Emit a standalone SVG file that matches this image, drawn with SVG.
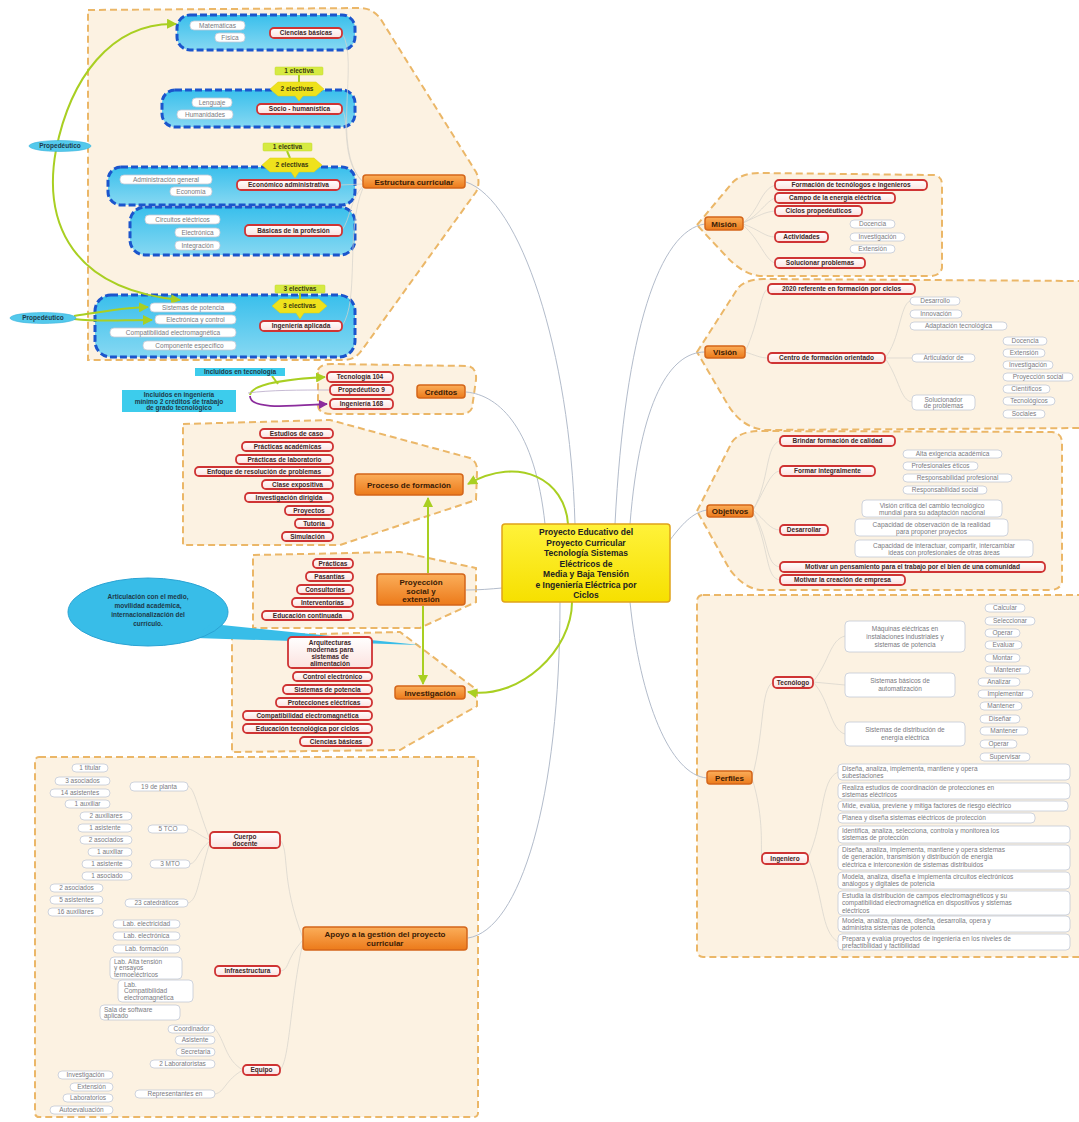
<svg xmlns="http://www.w3.org/2000/svg" width="1079" height="1122" viewBox="0 0 1079 1122">
<defs>
<linearGradient id="gO" x1="0" y1="0" x2="0" y2="1"><stop offset="0" stop-color="#fbae5a"/><stop offset="1" stop-color="#ec7a1a"/></linearGradient>
<linearGradient id="gR" x1="0" y1="0" x2="0" y2="1"><stop offset="0" stop-color="#ffffff"/><stop offset="1" stop-color="#fbe2df"/></linearGradient>
<linearGradient id="gB" x1="0" y1="0" x2="0" y2="1"><stop offset="0" stop-color="#39bfec"/><stop offset="1" stop-color="#86d8f2"/></linearGradient>
<linearGradient id="gY" x1="0" y1="0" x2="0" y2="1"><stop offset="0" stop-color="#fff23a"/><stop offset="1" stop-color="#f6e000"/></linearGradient>
<marker id="aG" viewBox="0 0 10 10" refX="9" refY="5" markerWidth="5" markerHeight="5" orient="auto-start-reverse"><path d="M0 0 L10 5 L0 10 Z" fill="#a9cf22"/></marker>
<marker id="aP" viewBox="0 0 10 10" refX="9" refY="5" markerWidth="5" markerHeight="5" orient="auto"><path d="M0 0 L10 5 L0 10 Z" fill="#8b2c9c"/></marker>
</defs>
<style>
text{font-family:"Liberation Sans","DejaVu Sans",sans-serif}
.reg{fill:#fcf2e2;stroke:#ebb768;stroke-width:2;stroke-dasharray:7 4}
.mn rect{fill:url(#gO);stroke:#d4661a;stroke-width:1.5}
.mn text{font-size:8px;font-weight:bold;fill:#3a1b05;text-anchor:middle}
.sb rect{fill:url(#gR);stroke:#cf3434;stroke-width:1.8}
.sb text{font-size:6.5px;font-weight:bold;fill:#3d2626;text-anchor:middle}
.lf rect{fill:#ffffff;stroke:#c3c9d6;stroke-width:0.8}
.lf text{font-size:6.5px;fill:#7a7a80;text-anchor:middle}
.lfl text{text-anchor:start}
.bx{fill:url(#gB);stroke:#1b55cc;stroke-width:3;stroke-dasharray:7 3}
.el1{fill:#d6ea42;stroke:#c2d82c;stroke-width:0.5}
.el2{fill:#efe21c;stroke:#d9cc10;stroke-width:0.5}
.elt{font-size:6.5px;font-weight:bold;fill:#3b3b10;text-anchor:middle}
.cy{fill:#53c9ec;stroke:#36b2dc;stroke-width:0.6}
.cyt{font-size:6.5px;font-weight:bold;fill:#1d3a4a;text-anchor:middle}
.cn{fill:none;stroke:#b3bccb;stroke-width:1}
.fl{fill:none;stroke:#d5d2cc;stroke-width:0.7}
.gr{fill:none;stroke:#a9cf22;stroke-width:2}
</style>
<rect width="1079" height="1122" fill="#ffffff"/>

<!-- regions -->
<g id="regions">
<path class="reg" d="M88 10 L360 8 Q372 8 380 18 L476 172 Q481 182 476 192 L362 350 Q355 360 344 360 L88 360 Z"/>
<path class="reg" d="M318 370 Q320 364 332 364 L468 366 Q477 368 476 380 L472 408 Q470 414 460 414 L332 414 Q318 414 318 405 Z"/>
<path class="reg" d="M183 424 L330 420 L470 458 Q478 462 477 472 L476 500 L340 545 L183 545 Z"/>
<path class="reg" d="M253 555 L400 552 L476 568 L476 602 L420 628 L253 628 Z"/>
<path class="reg" d="M232 636 L400 632 L477 690 L477 706 L400 750 L232 752 Z"/>
<rect class="reg" x="35" y="757" width="443" height="360" rx="4"/>
<path class="reg" d="M697 225 L733 182 Q742 173 760 173 L934 175 Q942 176 942 185 L942 268 Q940 276 930 276 L760 276 Q742 274 725 255 Z"/>
<path class="reg" d="M697 352 L738 288 Q746 279 765 279 L1082 281 L1082 428 L765 430 Q742 428 728 405 Z"/>
<path class="reg" d="M697 511 L732 442 Q740 431 760 431 L1052 432 Q1062 433 1062 443 L1062 582 Q1060 590 1050 590 L760 590 Q744 588 730 570 Z"/>
<rect class="reg" x="697" y="595" width="390" height="362" rx="6"/>
</g>

<!-- blue boxes -->
<g id="blue-boxes">
<rect class="bx" x="177" y="15" width="178" height="35" rx="13"/>
<rect class="bx" x="162" y="90" width="193" height="37" rx="13"/>
<rect class="bx" x="108" y="167" width="247" height="38" rx="13"/>
<rect class="bx" x="130" y="207" width="225" height="48" rx="15"/>
<rect class="bx" x="95" y="295" width="260" height="62" rx="16"/>
</g>

<!-- connectors -->
<g id="connectors">
<path class="cn" d="M575 524 C570 350 520 200 466 182"/>
<path class="cn" d="M545 524 C535 430 500 395 466 392"/>
<path class="cn" d="M502 588 C490 589 480 590 466 590"/>
<path class="cn" d="M560 602 C560 800 520 930 468 938"/>
<path class="cn" d="M615 524 C625 330 660 230 705 224"/>
<path class="cn" d="M630 524 C640 400 670 352 705 352"/>
<path class="cn" d="M670 540 C685 520 695 512 707 510"/>
<path class="cn" d="M630 602 C640 700 670 775 707 778"/>
<path class="gr" d="M568 524 C565 480 520 455 468 484" marker-end="url(#aG)"/>
<path class="gr" d="M572 602 C572 650 520 700 468 692" marker-end="url(#aG)"/>
<path class="gr" d="M428 573 L428 498" marker-end="url(#aG)"/>
<path class="gr" d="M423 606 L423 684" marker-end="url(#aG)"/>
<path class="gr" d="M176 24 C110 22 70 80 56 150 C45 210 60 288 180 300" marker-start="url(#aG)" marker-end="url(#aG)"/>
<path class="gr" d="M74 316 C100 312 120 308 148 307" marker-end="url(#aG)"/>
<path class="gr" d="M74 319 C100 322 120 320 152 320" marker-end="url(#aG)"/>
<path class="gr" d="M299 75 L299 83" stroke-width="1.2"/>
<path class="gr" d="M287 151 L290 158" stroke-width="1.2"/>
<path class="gr" d="M300 293 L300 299" stroke-width="1.2"/>
<path class="gr" d="M250 395 C252 383 290 379 325 377" stroke-width="1.6" marker-end="url(#aG)"/>
<path class="gr" d="M272 376 L278 384" stroke-width="1.2"/>
<path d="M250 396 C250 410 290 406 327 404" fill="none" stroke="#8b2c9c" stroke-width="1.8" marker-end="url(#aP)"/>
<path d="M248 393 C270 390 300 390 329 390" fill="none" stroke="#b7a8c8" stroke-width="0.8"/>
<!-- faint branches -->
<path class="fl" d="M363 182 C330 150 360 60 342 33"/>
<path class="fl" d="M363 182 C340 160 350 120 342 109"/>
<path class="fl" d="M363 184 L340 185"/>
<path class="fl" d="M363 186 C350 200 350 220 342 230"/>
<path class="fl" d="M363 188 C345 230 360 300 342 326"/>
<path class="fl" d="M743 223 C760 210 760 190 775 185"/>
<path class="fl" d="M743 223 C760 215 765 202 775 198"/>
<path class="fl" d="M743 223 C760 215 765 212 775 211"/>
<path class="fl" d="M743 224 C760 230 765 237 775 237"/>
<path class="fl" d="M743 225 C760 240 765 260 775 263"/>
<path class="fl" d="M745 352 C760 320 760 292 768 289"/>
<path class="fl" d="M745 352 C755 355 760 358 768 358"/>
<path class="fl" d="M885 358 C900 340 900 305 910 301"/>
<path class="fl" d="M885 358 L912 358"/>
<path class="fl" d="M885 358 C900 380 900 400 912 402"/>
<path class="fl" d="M753 510 C770 480 765 445 780 441"/>
<path class="fl" d="M753 510 C765 490 770 472 780 471"/>
<path class="fl" d="M753 510 C765 520 770 530 780 530"/>
<path class="fl" d="M753 512 C770 540 765 565 780 567"/>
<path class="fl" d="M753 512 C770 550 765 578 780 580"/>
<path class="fl" d="M752 778 C765 730 760 690 773 682"/>
<path class="fl" d="M752 778 C765 820 760 850 762 858"/>
<path class="fl" d="M813 682 C830 660 830 640 845 636"/>
<path class="fl" d="M813 682 L845 685"/>
<path class="fl" d="M813 682 C830 700 830 730 845 734"/>
<path class="fl" d="M808 858 C825 820 820 780 838 772"/>
<path class="fl" d="M808 858 C825 900 820 930 838 942"/>
<path class="fl" d="M303 938 C280 880 290 850 280 840"/>
<path class="fl" d="M303 940 C285 960 290 970 280 971"/>
<path class="fl" d="M303 942 C290 1000 290 1060 280 1070"/>
<path class="fl" d="M210 840 C195 800 195 790 188 786"/>
<path class="fl" d="M210 840 C198 835 195 830 188 829"/>
<path class="fl" d="M210 841 C198 850 198 862 190 864"/>
<path class="fl" d="M210 842 C198 880 198 900 188 903"/>
<path class="fl" d="M243 1070 C225 1060 225 1040 215 1029"/>
<path class="fl" d="M243 1070 C225 1080 225 1092 215 1094"/>
</g>

<!-- Estructura curricular -->
<g id="estructura-curricular" class="mn"><rect x="363" y="175" width="102" height="13" rx="3"/><text x="414" y="184.5">Estructura curricular</text></g>
<g id="ciencias-basicas" class="sb"><rect x="270" y="28" width="72" height="10" rx="4"/><text x="306" y="35.3">Ciencias básicas</text></g>
<g id="matematicas" class="lf"><rect x="190" y="21" width="55" height="9" rx="4"/><text x="217.5" y="27.8">Matemáticas</text></g>
<g id="fisica" class="lf"><rect x="215" y="33" width="30" height="9" rx="4"/><text x="230" y="39.8">Física</text></g>
<g id="socio-humanistica" class="sb"><rect x="257" y="104" width="85" height="10" rx="4"/><text x="299.5" y="111.3">Socio - humanística</text></g>
<g id="lenguaje" class="lf"><rect x="192" y="98" width="40" height="9" rx="4"/><text x="212" y="104.8">Lenguaje</text></g>
<g id="humanidades" class="lf"><rect x="177" y="110" width="56" height="9" rx="4"/><text x="205" y="116.8">Humanidades</text></g>
<g id="economico-administrativa" class="sb"><rect x="237" y="180" width="103" height="10" rx="4"/><text x="288.5" y="187.3">Económico administrativa</text></g>
<g id="administracion-general" class="lf"><rect x="120" y="175" width="92" height="9" rx="4"/><text x="166" y="181.8">Administración general</text></g>
<g id="economia" class="lf"><rect x="170" y="187" width="42" height="9" rx="4"/><text x="191" y="193.8">Economía</text></g>
<g id="basicas-profesion" class="sb"><rect x="245" y="225" width="97" height="11" rx="4"/><text x="293.5" y="232.8">Básicas de la profesión</text></g>
<g id="circuitos" class="lf"><rect x="145" y="215" width="75" height="9" rx="4"/><text x="182.5" y="221.8">Circuitos eléctricos</text></g>
<g id="electronica" class="lf"><rect x="175" y="228" width="45" height="9" rx="4"/><text x="197.5" y="234.8">Electrónica</text></g>
<g id="integracion" class="lf"><rect x="175" y="241" width="45" height="9" rx="4"/><text x="197.5" y="247.8">Integración</text></g>
<g id="ingenieria-aplicada" class="sb"><rect x="260" y="321" width="82" height="10" rx="4"/><text x="301" y="328.3">Ingeniería aplicada</text></g>
<g id="sistemas-potencia" class="lf"><rect x="150" y="303" width="86" height="9" rx="4"/><text x="193" y="309.8">Sistemas de potencia</text></g>
<g id="electronica-control" class="lf"><rect x="155" y="315" width="81" height="9" rx="4"/><text x="195.5" y="321.8">Electrónica y control</text></g>
<g id="compatibilidad" class="lf"><rect x="110" y="328" width="126" height="9" rx="4"/><text x="173" y="334.8">Compatibilidad electromagnética</text></g>
<g id="componente" class="lf"><rect x="143" y="341" width="93" height="9" rx="4"/><text x="189.5" y="347.8">Componente específico</text></g>

<g id="electiva-1a"><rect class="el1" x="275" y="67" width="48" height="8" rx="1"/><text class="elt" x="299" y="73.2">1 electiva</text></g>
<g id="electivas-2a"><path class="el2" d="M270 89 L278 82 L316 82 L324 89 L316 96 L303 96 L299 101 L295 96 L278 96 Z"/><text class="elt" x="297" y="91.3">2 electivas</text></g>
<g id="electiva-1b"><rect class="el1" x="263" y="143" width="49" height="8" rx="1"/><text class="elt" x="287.5" y="149.2">1 electiva</text></g>
<g id="electivas-2b"><path class="el2" d="M262 165 L270 158 L314 158 L322 165 L314 172 L299 172 L295 178 L291 172 L270 172 Z"/><text class="elt" x="292" y="167.3">2 electivas</text></g>
<g id="electivas-3a"><rect class="el1" x="275" y="285" width="50" height="8" rx="1"/><text class="elt" x="300" y="291.2">3 electivas</text></g>
<g id="electivas-3b"><path class="el2" d="M272 306 L280 299 L319 299 L327 306 L319 313 L304 313 L300 319 L296 313 L280 313 Z"/><text class="elt" x="299.5" y="308.3">3 electivas</text></g>

<g id="propedeutico-1"><ellipse class="cy" cx="60" cy="146" rx="31" ry="5.5"/><text class="cyt" x="60" y="148.3">Propedéutico</text></g>
<g id="propedeutico-2"><ellipse class="cy" cx="43" cy="318" rx="33" ry="5.5"/><text class="cyt" x="43" y="320.3">Propedéutico</text></g>

<!-- Créditos -->
<g id="creditos" class="mn"><rect x="417" y="385" width="48" height="13" rx="3"/><text x="441" y="394.5">Créditos</text></g>
<g id="tecnologia-104" class="sb"><rect x="327" y="372" width="66" height="10" rx="4"/><text x="360" y="379.3">Tecnología 104</text></g>
<g id="propedeutico-9" class="sb"><rect x="330" y="385" width="63" height="10" rx="4"/><text x="361.5" y="392.3">Propedéutico 9</text></g>
<g id="ingenieria-168" class="sb"><rect x="330" y="399" width="63" height="10" rx="4"/><text x="361.5" y="406.3">Ingeniería 168</text></g>
<g id="incluidos-tecnologia"><rect x="195" y="368" width="90" height="8" fill="#3dccec"/><text class="cyt" x="240" y="374.2">Incluidos en tecnología</text></g>
<g id="incluidos-ingenieria"><rect x="122" y="390" width="114" height="22" fill="#3dccec"/><text class="cyt" x="179" y="397">Incluidos en ingeniería</text><text class="cyt" x="179" y="403.5">mínimo 2 créditos de trabajo</text><text class="cyt" x="179" y="410">de grado tecnológico</text></g>

<!-- Proceso de formación -->
<g id="proceso-formacion" class="mn"><rect x="355" y="474" width="108" height="21" rx="3"/><text x="409" y="487.5">Proceso de formación</text></g>
<g id="estudios-caso" class="sb"><rect x="260" y="429" width="73" height="9" rx="4"/><text x="296.5" y="435.8">Estudios de caso</text></g>
<g id="practicas-academicas" class="sb"><rect x="242" y="442" width="91" height="9" rx="4"/><text x="287.5" y="448.8">Prácticas académicas</text></g>
<g id="practicas-laboratorio" class="sb"><rect x="236" y="455" width="97" height="9" rx="4"/><text x="284.5" y="461.8">Prácticas de laboratorio</text></g>
<g id="enfoque" class="sb"><rect x="195" y="467" width="138" height="9" rx="4"/><text x="264" y="473.8">Enfoque de resolución de problemas</text></g>
<g id="clase-expositiva" class="sb"><rect x="262" y="480" width="71" height="9" rx="4"/><text x="297.5" y="486.8">Clase expositiva</text></g>
<g id="investigacion-dirigida" class="sb"><rect x="245" y="493" width="88" height="9" rx="4"/><text x="289" y="499.8">Investigación dirigida</text></g>
<g id="proyectos" class="sb"><rect x="285" y="506" width="48" height="9" rx="4"/><text x="309" y="512.8">Proyectos</text></g>
<g id="tutoria" class="sb"><rect x="295" y="519" width="38" height="9" rx="4"/><text x="314" y="525.8">Tutoría</text></g>
<g id="simulacion" class="sb"><rect x="282" y="532" width="51" height="9" rx="4"/><text x="307.5" y="538.8">Simulación</text></g>

<!-- Proyección social -->
<g id="proyeccion-social" class="mn"><rect x="377" y="574" width="88" height="31" rx="3"/><text x="421" y="585">Proyección</text><text x="421" y="593.5">social y</text><text x="421" y="602">extensión</text></g>
<g id="practicas" class="sb"><rect x="313" y="559" width="40" height="9" rx="4"/><text x="333" y="565.8">Prácticas</text></g>
<g id="pasantias" class="sb"><rect x="306" y="572" width="47" height="9" rx="4"/><text x="329.5" y="578.8">Pasantías</text></g>
<g id="consultorias" class="sb"><rect x="297" y="585" width="56" height="9" rx="4"/><text x="325" y="591.8">Consultorías</text></g>
<g id="interventorias" class="sb"><rect x="292" y="598" width="61" height="9" rx="4"/><text x="322.5" y="604.8">Interventorías</text></g>
<g id="educacion-continuada" class="sb"><rect x="262" y="611" width="91" height="9" rx="4"/><text x="307.5" y="617.8">Educación continuada</text></g>

<g id="callout"><path d="M196 638 L420 645 L212 624 Z" fill="#38bde8"/><ellipse cx="148" cy="612" rx="80" ry="34" fill="#38bde8" stroke="#2aa3d4" stroke-width="1"/><path d="M199 636 L212 625" stroke="#38bde8" stroke-width="3"/><text class="cyt" x="148" y="599" font-size="7.5">Articulación con el medio,</text><text class="cyt" x="148" y="608" font-size="7.5">movilidad académica,</text><text class="cyt" x="148" y="617" font-size="7.5">internacionalización del</text><text class="cyt" x="148" y="626" font-size="7.5">currículo.</text></g>

<!-- Investigación -->
<g id="investigacion" class="mn"><rect x="395" y="686" width="70" height="13" rx="3"/><text x="430" y="695.5">Investigación</text></g>
<g id="arquitecturas" class="sb"><rect x="288" y="637" width="84" height="31" rx="4"/><text x="330" y="644.5">Arquitecturas</text><text x="330" y="651.5">modernas para</text><text x="330" y="658.5">sistemas de</text><text x="330" y="665.5">alimentación</text></g>
<g id="control-electronico" class="sb"><rect x="293" y="672" width="79" height="9" rx="4"/><text x="332.5" y="678.8">Control electrónico</text></g>
<g id="inv-sistemas-potencia" class="sb"><rect x="283" y="685" width="89" height="9" rx="4"/><text x="327.5" y="691.8">Sistemas de potencia</text></g>
<g id="protecciones" class="sb"><rect x="276" y="698" width="96" height="9" rx="4"/><text x="324" y="704.8">Protecciones eléctricas</text></g>
<g id="inv-compatibilidad" class="sb"><rect x="243" y="711" width="129" height="9" rx="4"/><text x="307.5" y="717.8">Compatibilidad electromagnética</text></g>
<g id="educacion-tecnologica" class="sb"><rect x="243" y="724" width="129" height="9" rx="4"/><text x="307.5" y="730.8">Educación tecnológica por ciclos</text></g>
<g id="inv-ciencias-basicas" class="sb"><rect x="300" y="737" width="72" height="9" rx="4"/><text x="336" y="743.8">Ciencias básicas</text></g>

<!-- Apoyo -->
<g id="apoyo" class="mn"><rect x="303" y="927" width="164" height="23" rx="3"/><text x="385" y="936.5">Apoyo a la gestión del proyecto</text><text x="385" y="946">curricular</text></g>
<g id="cuerpo-docente" class="sb"><rect x="210" y="832" width="70" height="16" rx="4"/><text x="245" y="839">Cuerpo</text><text x="245" y="846">docente</text></g>
<g id="infraestructura" class="sb"><rect x="215" y="966" width="65" height="10" rx="4"/><text x="247.5" y="973.3">Infraestructura</text></g>
<g id="equipo" class="sb"><rect x="243" y="1065" width="37" height="10" rx="4"/><text x="261.5" y="1072.3">Equipo</text></g>
<g id="de-planta" class="lf"><rect x="130" y="782" width="58" height="9" rx="4"/><text x="159" y="788.8">19 de planta</text></g>
<g id="titular" class="lf"><rect x="72" y="764" width="36" height="8" rx="4"/><text x="90" y="770.3">1 titular</text></g>
<g id="asociados-3" class="lf"><rect x="55" y="777" width="55" height="8" rx="4"/><text x="82.5" y="783.3">3 asociados</text></g>
<g id="asistentes-14" class="lf"><rect x="50" y="789" width="60" height="8" rx="4"/><text x="80" y="795.3">14 asistentes</text></g>
<g id="auxiliar-1a" class="lf"><rect x="65" y="800" width="45" height="8" rx="4"/><text x="87.5" y="806.3">1 auxiliar</text></g>
<g id="tco" class="lf"><rect x="148" y="825" width="40" height="8" rx="4"/><text x="168" y="831.3">5 TCO</text></g>
<g id="auxiliares-2" class="lf"><rect x="80" y="812" width="52" height="8" rx="4"/><text x="106" y="818.3">2 auxiliares</text></g>
<g id="asistente-1a" class="lf"><rect x="78" y="824" width="54" height="8" rx="4"/><text x="105" y="830.3">1 asistente</text></g>
<g id="asociados-2a" class="lf"><rect x="80" y="836" width="52" height="8" rx="4"/><text x="106" y="842.3">2 asociados</text></g>
<g id="auxiliar-1b" class="lf"><rect x="88" y="848" width="44" height="8" rx="4"/><text x="110" y="854.3">1 auxiliar</text></g>
<g id="mto" class="lf"><rect x="150" y="860" width="40" height="8" rx="4"/><text x="170" y="866.3">3 MTO</text></g>
<g id="asistente-1b" class="lf"><rect x="82" y="860" width="50" height="8" rx="4"/><text x="107" y="866.3">1 asistente</text></g>
<g id="asociado-1" class="lf"><rect x="82" y="872" width="50" height="8" rx="4"/><text x="107" y="878.3">1 asociado</text></g>
<g id="asociados-2b" class="lf"><rect x="50" y="884" width="53" height="8" rx="4"/><text x="76.5" y="890.3">2 asociados</text></g>
<g id="asistentes-5" class="lf"><rect x="50" y="896" width="53" height="8" rx="4"/><text x="76.5" y="902.3">5 asistentes</text></g>
<g id="auxiliares-16" class="lf"><rect x="48" y="908" width="55" height="8" rx="4"/><text x="75.5" y="914.3">16 auxiliares</text></g>
<g id="catedraticos" class="lf"><rect x="125" y="899" width="63" height="8" rx="4"/><text x="156.5" y="905.3">23 catedráticos</text></g>
<g id="lab-electricidad" class="lf"><rect x="113" y="920" width="67" height="8" rx="4"/><text x="146.5" y="926.3">Lab. electricidad</text></g>
<g id="lab-electronica" class="lf"><rect x="113" y="932" width="67" height="8" rx="4"/><text x="146.5" y="938.3">Lab. electrónica</text></g>
<g id="lab-formacion" class="lf"><rect x="113" y="945" width="67" height="8" rx="4"/><text x="146.5" y="951.3">Lab. formación</text></g>
<g id="lab-alta-tension" class="lf lfl"><rect x="110" y="957" width="72" height="22" rx="4"/><text x="114" y="963.5">Lab. Alta tensión</text><text x="114" y="970">y ensayos</text><text x="114" y="976.5">termoeléctricos</text></g>
<g id="lab-compatibilidad" class="lf lfl"><rect x="118" y="980" width="75" height="22" rx="4"/><text x="124" y="986.5">Lab.</text><text x="124" y="993">Compatibilidad</text><text x="124" y="999.5">electromagnética</text></g>
<g id="sala-software" class="lf lfl"><rect x="100" y="1005" width="80" height="15" rx="4"/><text x="104" y="1011.5">Sala de software</text><text x="104" y="1018">aplicado</text></g>
<g id="coordinador" class="lf"><rect x="168" y="1025" width="47" height="8" rx="4"/><text x="191.5" y="1031.3">Coordinador</text></g>
<g id="asistente" class="lf"><rect x="175" y="1036" width="40" height="8" rx="4"/><text x="195" y="1042.3">Asistente</text></g>
<g id="secretaria" class="lf"><rect x="176" y="1048" width="39" height="8" rx="4"/><text x="195.5" y="1054.3">Secretaria</text></g>
<g id="laboratoristas" class="lf"><rect x="150" y="1060" width="65" height="8" rx="4"/><text x="182.5" y="1066.3">2 Laboratoristas</text></g>
<g id="representantes" class="lf"><rect x="135" y="1090" width="80" height="8" rx="4"/><text x="175" y="1096.3">Representantes en</text></g>
<g id="rep-investigacion" class="lf"><rect x="58" y="1071" width="55" height="8" rx="4"/><text x="85.5" y="1077.3">Investigación</text></g>
<g id="rep-extension" class="lf"><rect x="70" y="1083" width="43" height="8" rx="4"/><text x="91.5" y="1089.3">Extensión</text></g>
<g id="rep-laboratorios" class="lf"><rect x="63" y="1094" width="50" height="8" rx="4"/><text x="88" y="1100.3">Laboratorios</text></g>
<g id="rep-autoevaluacion" class="lf"><rect x="50" y="1106" width="63" height="8" rx="4"/><text x="81.5" y="1112.3">Autoevaluación</text></g>

<!-- Central node -->
<g id="central"><rect x="502" y="524" width="168" height="78" rx="3" fill="url(#gY)" stroke="#e0a21a" stroke-width="1.5"/>
<text x="586" y="535" font-size="8.5" font-weight="bold" fill="#222" text-anchor="middle">Proyecto Educativo del</text>
<text x="586" y="545.5" font-size="8.5" font-weight="bold" fill="#222" text-anchor="middle">Proyecto Curricular</text>
<text x="586" y="556" font-size="8.5" font-weight="bold" fill="#222" text-anchor="middle">Tecnología Sistemas</text>
<text x="586" y="566.5" font-size="8.5" font-weight="bold" fill="#222" text-anchor="middle">Eléctricos de</text>
<text x="586" y="577" font-size="8.5" font-weight="bold" fill="#222" text-anchor="middle">Media y Baja Tensión</text>
<text x="586" y="587.5" font-size="8.5" font-weight="bold" fill="#222" text-anchor="middle">e Ingeniería Eléctrica por</text>
<text x="586" y="598" font-size="8.5" font-weight="bold" fill="#222" text-anchor="middle">Ciclos</text></g>

<!-- Misión -->
<g id="mision" class="mn"><rect x="705" y="217" width="38" height="13" rx="3"/><text x="724" y="226.5">Misión</text></g>
<g id="formacion-tecnologos" class="sb"><rect x="775" y="180" width="152" height="10" rx="4"/><text x="851" y="187.3">Formación de tecnólogos e ingenieros</text></g>
<g id="campo-energia" class="sb"><rect x="775" y="193" width="120" height="10" rx="4"/><text x="835" y="200.3">Campo de la energía eléctrica</text></g>
<g id="ciclos-propedeuticos" class="sb"><rect x="775" y="206" width="87" height="10" rx="4"/><text x="818.5" y="213.3">Ciclos propedéuticos</text></g>
<g id="actividades" class="sb"><rect x="775" y="232" width="53" height="10" rx="4"/><text x="801.5" y="239.3">Actividades</text></g>
<g id="m-docencia" class="lf"><rect x="850" y="220" width="45" height="8" rx="4"/><text x="872.5" y="226.3">Docencia</text></g>
<g id="m-investigacion" class="lf"><rect x="850" y="233" width="55" height="8" rx="4"/><text x="877.5" y="239.3">Investigación</text></g>
<g id="m-extension" class="lf"><rect x="850" y="245" width="45" height="8" rx="4"/><text x="872.5" y="251.3">Extensión</text></g>
<g id="solucionar" class="sb"><rect x="775" y="258" width="90" height="10" rx="4"/><text x="820" y="265.3">Solucionar problemas</text></g>

<!-- Visión -->
<g id="vision" class="mn"><rect x="705" y="346" width="40" height="12" rx="3"/><text x="725" y="355">Visión</text></g>
<g id="referente-2020" class="sb"><rect x="768" y="284" width="147" height="10" rx="4"/><text x="841.5" y="291.3">2020 referente en formación por ciclos</text></g>
<g id="centro-formacion" class="sb"><rect x="768" y="353" width="117" height="10" rx="4"/><text x="826.5" y="360.3">Centro de formación orientado</text></g>
<g id="desarrollo" class="lf"><rect x="910" y="297" width="50" height="8" rx="4"/><text x="935" y="303.3">Desarrollo</text></g>
<g id="innovacion" class="lf"><rect x="910" y="310" width="52" height="8" rx="4"/><text x="936" y="316.3">Innovación</text></g>
<g id="adaptacion" class="lf"><rect x="910" y="322" width="97" height="8" rx="4"/><text x="958.5" y="328.3">Adaptación tecnológica</text></g>
<g id="articulador" class="lf"><rect x="912" y="354" width="63" height="8" rx="4"/><text x="943.5" y="360.3">Articulador de</text></g>
<g id="v-docencia" class="lf"><rect x="1003" y="337" width="44" height="8" rx="4"/><text x="1025" y="343.3">Docencia</text></g>
<g id="v-extension" class="lf"><rect x="1003" y="349" width="42" height="8" rx="4"/><text x="1024" y="355.3">Extensión</text></g>
<g id="v-investigacion" class="lf"><rect x="1003" y="361" width="50" height="8" rx="4"/><text x="1028" y="367.3">Investigación</text></g>
<g id="v-proyeccion" class="lf"><rect x="1003" y="373" width="70" height="8" rx="4"/><text x="1038" y="379.3">Proyección social</text></g>
<g id="solucionador" class="lf"><rect x="912" y="395" width="63" height="15" rx="4"/><text x="943.5" y="401.5">Solucionador</text><text x="943.5" y="408">de problemas</text></g>
<g id="cientificos" class="lf"><rect x="1003" y="385" width="47" height="8" rx="4"/><text x="1026.5" y="391.3">Científicos</text></g>
<g id="tecnologicos" class="lf"><rect x="1003" y="397" width="52" height="8" rx="4"/><text x="1029" y="403.3">Tecnológicos</text></g>
<g id="sociales" class="lf"><rect x="1003" y="410" width="42" height="8" rx="4"/><text x="1024" y="416.3">Sociales</text></g>

<!-- Objetivos -->
<g id="objetivos" class="mn"><rect x="707" y="505" width="46" height="12" rx="3"/><text x="730" y="514">Objetivos</text></g>
<g id="brindar" class="sb"><rect x="780" y="436" width="115" height="10" rx="4"/><text x="837.5" y="443.3">Brindar formación de calidad</text></g>
<g id="formar" class="sb"><rect x="780" y="466" width="95" height="10" rx="4"/><text x="827.5" y="473.3">Formar integralmente</text></g>
<g id="alta-exigencia" class="lf"><rect x="903" y="450" width="99" height="8" rx="4"/><text x="952.5" y="456.3">Alta exigencia académica</text></g>
<g id="profesionales-eticos" class="lf"><rect x="903" y="462" width="75" height="8" rx="4"/><text x="940.5" y="468.3">Profesionales éticos</text></g>
<g id="resp-profesional" class="lf"><rect x="903" y="474" width="109" height="8" rx="4"/><text x="957.5" y="480.3">Responsabilidad profesional</text></g>
<g id="resp-social" class="lf"><rect x="903" y="486" width="84" height="8" rx="4"/><text x="945" y="492.3">Responsabilidad social</text></g>
<g id="desarrollar" class="sb"><rect x="780" y="525" width="48" height="10" rx="4"/><text x="804" y="532.3">Desarrollar</text></g>
<g id="vision-critica" class="lf"><rect x="862" y="500" width="140" height="17" rx="4"/><text x="932" y="507.5">Visión crítica del cambio tecnológico</text><text x="932" y="514.5">mundial para su adaptación nacional</text></g>
<g id="capacidad-observacion" class="lf"><rect x="855" y="519" width="153" height="17" rx="4"/><text x="931.5" y="526.5">Capacidad de observación de la realidad</text><text x="931.5" y="533.5">para proponer proyectos</text></g>
<g id="capacidad-interactuar" class="lf"><rect x="855" y="540" width="178" height="17" rx="4"/><text x="944" y="547.5">Capacidad de interactuar, compartir, intercambiar</text><text x="944" y="554.5">ideas con profesionales de otras áreas</text></g>
<g id="motivar-pensamiento" class="sb"><rect x="780" y="562" width="265" height="10" rx="4"/><text x="912.5" y="569.3">Motivar un pensamiento para el trabajo por el bien de una comunidad</text></g>
<g id="motivar-empresa" class="sb"><rect x="780" y="575" width="125" height="10" rx="4"/><text x="842.5" y="582.3">Motivar la creación de empresa</text></g>

<!-- Perfiles -->
<g id="perfiles" class="mn"><rect x="707" y="771" width="45" height="13" rx="3"/><text x="729.5" y="780.5">Perfiles</text></g>
<g id="tecnologo" class="sb"><rect x="773" y="677" width="40" height="11" rx="4"/><text x="793" y="684.8">Tecnólogo</text></g>
<g id="maquinas" class="lf"><rect x="845" y="621" width="120" height="31" rx="4"/><text x="905" y="630.5">Máquinas eléctricas en</text><text x="905" y="638.5">instalaciones industriales y</text><text x="905" y="646.5">sistemas de potencia</text></g>
<g id="automatizacion" class="lf"><rect x="845" y="673" width="110" height="24" rx="4"/><text x="900" y="683">Sistemas básicos de</text><text x="900" y="691">automatización</text></g>
<g id="distribucion" class="lf"><rect x="845" y="722" width="120" height="24" rx="4"/><text x="905" y="732">Sistemas de distribución de</text><text x="905" y="740">energía eléctrica</text></g>
<g id="calcular" class="lf"><rect x="985" y="604" width="40" height="8" rx="4"/><text x="1005" y="610.3">Calcular</text></g>
<g id="seleccionar" class="lf"><rect x="985" y="617" width="50" height="8" rx="4"/><text x="1010" y="623.3">Seleccionar</text></g>
<g id="operar-1" class="lf"><rect x="985" y="629" width="35" height="8" rx="4"/><text x="1002.5" y="635.3">Operar</text></g>
<g id="evaluar" class="lf"><rect x="985" y="641" width="37" height="8" rx="4"/><text x="1003.5" y="647.3">Evaluar</text></g>
<g id="montar" class="lf"><rect x="985" y="654" width="35" height="8" rx="4"/><text x="1002.5" y="660.3">Montar</text></g>
<g id="mantener-1" class="lf"><rect x="985" y="666" width="45" height="8" rx="4"/><text x="1007.5" y="672.3">Mantener</text></g>
<g id="analizar" class="lf"><rect x="978" y="678" width="42" height="8" rx="4"/><text x="999" y="684.3">Analizar</text></g>
<g id="implementar" class="lf"><rect x="978" y="690" width="55" height="8" rx="4"/><text x="1005.5" y="696.3">Implementar</text></g>
<g id="mantener-2" class="lf"><rect x="980" y="702" width="42" height="8" rx="4"/><text x="1001" y="708.3">Mantener</text></g>
<g id="disenar" class="lf"><rect x="980" y="715" width="40" height="8" rx="4"/><text x="1000" y="721.3">Diseñar</text></g>
<g id="mantener-3" class="lf"><rect x="980" y="727" width="48" height="8" rx="4"/><text x="1004" y="733.3">Mantener</text></g>
<g id="operar-2" class="lf"><rect x="980" y="740" width="37" height="8" rx="4"/><text x="998.5" y="746.3">Operar</text></g>
<g id="supervisar" class="lf"><rect x="980" y="753" width="50" height="8" rx="4"/><text x="1005" y="759.3">Supervisar</text></g>

<g id="ingeniero" class="sb"><rect x="762" y="853" width="46" height="11" rx="4"/><text x="785" y="860.8">Ingeniero</text></g>
<g id="ing-1" class="lf lfl"><rect x="838" y="764" width="232" height="16" rx="4"/><text x="842" y="770.5">Diseña, analiza, implementa, mantiene y opera</text><text x="842" y="777.5">subestaciones</text></g>
<g id="ing-2" class="lf lfl"><rect x="838" y="783" width="232" height="16" rx="4"/><text x="842" y="789.5">Realiza estudios de coordinación de protecciones en</text><text x="842" y="796.5">sistemas eléctricos</text></g>
<g id="ing-3" class="lf lfl"><rect x="838" y="801" width="230" height="10" rx="4"/><text x="842" y="808.3">Mide, evalúa, previene y mitiga factores de riesgo eléctrico</text></g>
<g id="ing-4" class="lf lfl"><rect x="838" y="813" width="197" height="10" rx="4"/><text x="842" y="820.3">Planea y diseña sistemas eléctricos de protección</text></g>
<g id="ing-5" class="lf lfl"><rect x="838" y="826" width="232" height="17" rx="4"/><text x="842" y="832.5">Identifica, analiza, selecciona, controla y monitorea los</text><text x="842" y="840">sistemas de protección</text></g>
<g id="ing-6" class="lf lfl"><rect x="838" y="845" width="232" height="25" rx="4"/><text x="842" y="851.5">Diseña, analiza, implementa, mantiene y opera sistemas</text><text x="842" y="859">de generación, transmisión y distribución de energía</text><text x="842" y="866.5">eléctrica e interconexión de sistemas distribuidos</text></g>
<g id="ing-7" class="lf lfl"><rect x="838" y="872" width="232" height="17" rx="4"/><text x="842" y="878.5">Modela, analiza, diseña e implementa circuitos electrónicos</text><text x="842" y="886">análogos y digitales de potencia</text></g>
<g id="ing-8" class="lf lfl"><rect x="838" y="891" width="232" height="24" rx="4"/><text x="842" y="897.5">Estudia la distribución de campos electromagnéticos y su</text><text x="842" y="905">compatibilidad electromagnética en dispositivos y sistemas</text><text x="842" y="912.5">eléctricos</text></g>
<g id="ing-9" class="lf lfl"><rect x="838" y="916" width="232" height="16" rx="4"/><text x="842" y="922.5">Modela, analiza, planea, diseña, desarrolla, opera y</text><text x="842" y="929.5">administra sistemas de potencia</text></g>
<g id="ing-10" class="lf lfl"><rect x="838" y="934" width="232" height="16" rx="4"/><text x="842" y="940.5">Prepara y evalúa proyectos de ingeniería en los niveles de</text><text x="842" y="947.5">prefactibilidad y factibilidad</text></g>
</svg>
